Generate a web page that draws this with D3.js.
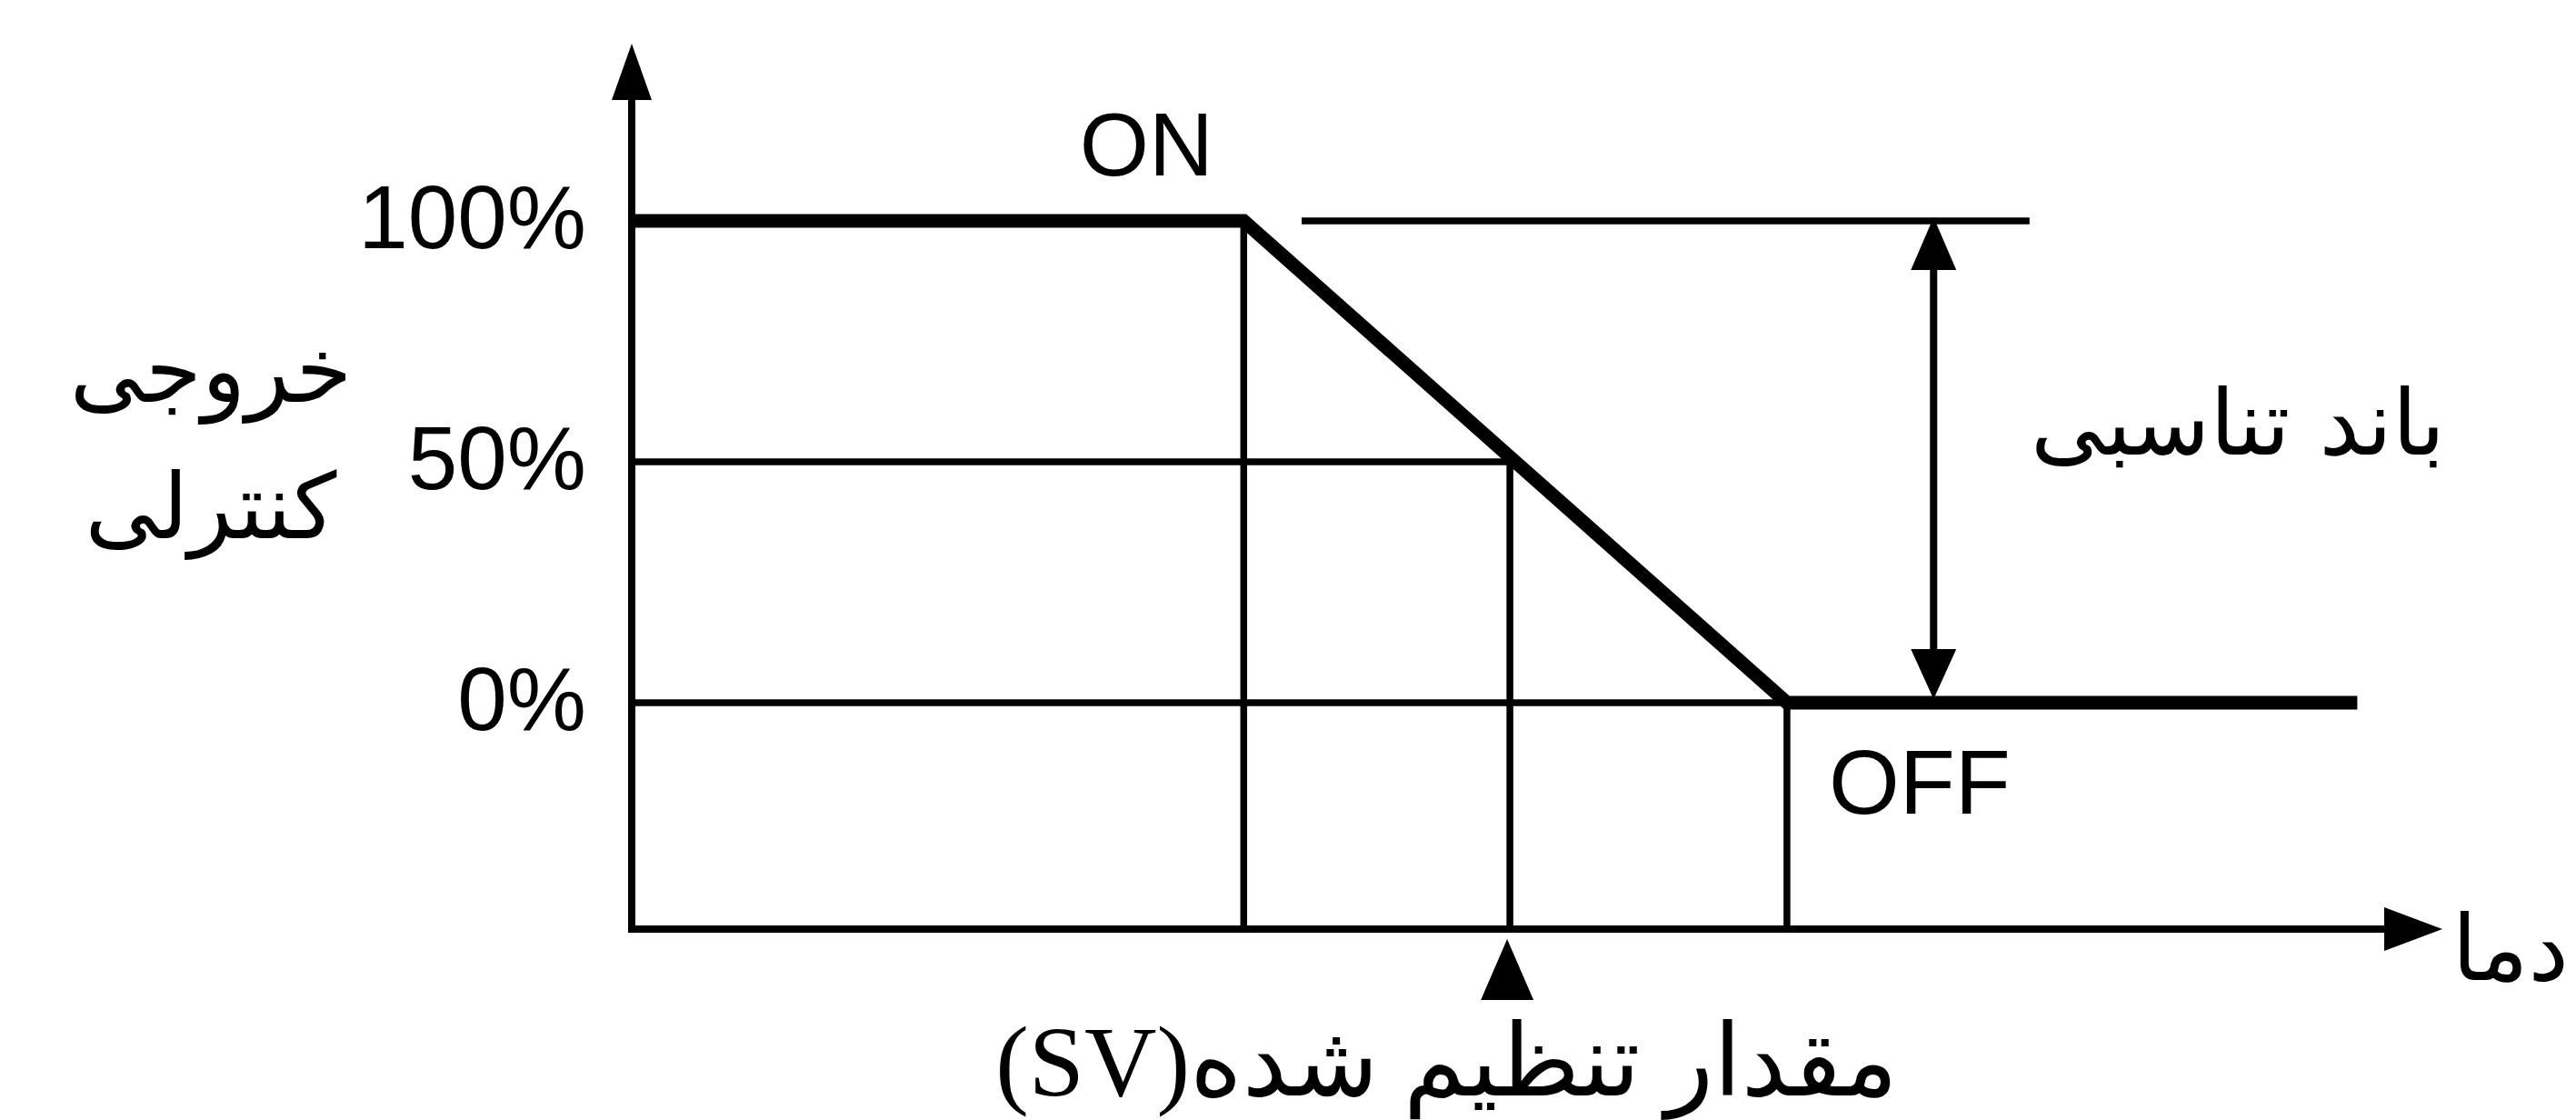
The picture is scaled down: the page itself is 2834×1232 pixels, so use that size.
<!DOCTYPE html>
<html>
<head>
<meta charset="utf-8">
<script src="https://cdn.jsdelivr.net/npm/d3@7"></script>
<style>
  body { margin: 0; background: #fff; }
  svg { display: block; }
  .lat { font-family: "Liberation Sans", Arial, sans-serif; }
  .fa { font-family: "DejaVu Sans", sans-serif; }
</style>
</head>
<body>
<div class="chart"></div>
<script>
// declare global values
const WIDTH = 2834;
const HEIGHT = 1232;

// data: temperature (arbitrary 0-100 units) vs control output (%)
const curveTemp = [0, 33.8, 63.8, 95.3];
const curveOut = [100, 100, 0, 0];
const yTicks = [0, 50, 100];
const yTickLabels = ["0%", "50%", "100%"];
// guide points: ON, set value, OFF
const guideTemp = [33.8, 48.5, 63.8];
const guideOut = [100, 50, 0];
// proportional band marker
const bandLineTemp = [37.0, 77.2];
const bandArrowTemp = 71.9;
const bandOut = [100, 0];

// layout
const X0 = 695, X1 = 2687;
const AXIS_Y = 1022, AXIS_TOP = 48;
const THICK = 15, THIN = 7.5, AXIS_W = 8;

var x = d3.scaleLinear().domain([0, 100]).range([X0, X1]);
var y = d3.scaleLinear().domain([0, 100]).range([773, 243]);

var svg = d3
  .select(".chart")
  .append("svg")
  .attr("width", WIDTH)
  .attr("height", HEIGHT);

svg.append("rect").attr("width", WIDTH).attr("height", HEIGHT).attr("fill", "#fff");

// thin guide lines (horizontal to the y axis, vertical to the x axis)
var guides = d3.range(guideTemp.length);
svg.append("g")
  .selectAll("line.h")
  .data(guides.slice(1))
  .join("line")
  .attr("x1", x(0))
  .attr("x2", (i) => x(guideTemp[i]))
  .attr("y1", (i) => y(guideOut[i]))
  .attr("y2", (i) => y(guideOut[i]))
  .attr("stroke", "#000")
  .attr("stroke-width", THIN);

svg.append("g")
  .selectAll("line.v")
  .data(guides)
  .join("line")
  .attr("x1", (i) => x(guideTemp[i]))
  .attr("x2", (i) => x(guideTemp[i]))
  .attr("y1", (i) => y(guideOut[i]))
  .attr("y2", AXIS_Y)
  .attr("stroke", "#000")
  .attr("stroke-width", THIN);

// band reference line at 100%
svg.append("line")
  .attr("x1", x(bandLineTemp[0]))
  .attr("x2", x(bandLineTemp[1]))
  .attr("y1", y(100))
  .attr("y2", y(100))
  .attr("stroke", "#000")
  .attr("stroke-width", THIN);

// band double arrow
var bx = x(bandArrowTemp);
var topTip = y(bandOut[0]) - 4, botTip = y(bandOut[1]) - 4;
svg.append("line")
  .attr("x1", bx).attr("x2", bx)
  .attr("y1", topTip + 40).attr("y2", botTip - 40)
  .attr("stroke", "#000")
  .attr("stroke-width", AXIS_W);
svg.append("path")
  .attr("d", `M${bx},${topTip}L${bx - 25},${topTip + 58}L${bx + 25},${topTip + 58}Z` +
             `M${bx},${botTip}L${bx - 25},${botTip - 55}L${bx + 25},${botTip - 55}Z`)
  .attr("fill", "#000");

// axes
svg.append("line")
  .attr("x1", X0).attr("x2", X0)
  .attr("y1", AXIS_Y + AXIS_W / 2).attr("y2", AXIS_TOP + 40)
  .attr("stroke", "#000").attr("stroke-width", AXIS_W);
svg.append("line")
  .attr("x1", X0).attr("x2", X1 - 40)
  .attr("y1", AXIS_Y).attr("y2", AXIS_Y)
  .attr("stroke", "#000").attr("stroke-width", AXIS_W);
svg.append("path")
  .attr("d", `M${X0},${AXIS_TOP}L${X0 - 22},${AXIS_TOP + 62}L${X0 + 22},${AXIS_TOP + 62}Z` +
             `M${X1},${AXIS_Y}L${X1 - 64},${AXIS_Y - 24}L${X1 - 64},${AXIS_Y + 24}Z`)
  .attr("fill", "#000");

// y tick labels
svg.append("g")
  .attr("transform", `translate(${X0},0)`)
  .call(d3.axisLeft(y).tickValues(yTicks).tickSize(0).tickPadding(50)
    .tickFormat((d, i) => yTickLabels[i]))
  .call((g) => g.select(".domain").remove())
  .call((g) => g.selectAll(".tick text")
    .attr("class", "lat")
    .attr("font-family", null)
    .attr("font-size", 98)
    .attr("fill", "#000")
    .attr("dy", "0.3em"));

// output curve
var valueLine = d3.line()
  .x((d, i) => x(curveTemp[i]))
  .y((d, i) => y(curveOut[i]))
  .curve(d3.curveLinear);
svg.append("path")
  .datum(curveTemp)
  .attr("d", valueLine)
  .attr("fill", "none")
  .attr("stroke", "#000")
  .attr("stroke-width", THICK)
  .attr("stroke-linejoin", "miter");

// set value marker under the x axis
var sx = x(guideTemp[1]) - 3;
svg.append("path")
  .attr("d", `M${sx},1033L${sx - 29},1100L${sx + 29},1100Z`)
  .attr("fill", "#000");

// labels
svg.append("text").attr("class", "lat")
  .attr("x", x(guideTemp[0]) - 107).attr("y", 193)
  .attr("text-anchor", "middle").attr("font-size", 98)
  .text("ON");
svg.append("text").attr("class", "lat")
  .attr("x", x(guideTemp[2]) + 46).attr("y", 895)
  .attr("font-size", 100)
  .text("OFF");

svg.append("text").attr("class", "fa")
  .attr("x", 232).attr("y", 442)
  .attr("text-anchor", "middle").attr("font-size", 100)
  .text("خروجی");
svg.append("text").attr("class", "fa")
  .attr("x", 232).attr("y", 592)
  .attr("text-anchor", "middle").attr("font-size", 100)
  .text("کنترلی");

svg.append("text").attr("class", "fa")
  .attr("x", 2462).attr("y", 500)
  .attr("text-anchor", "middle").attr("font-size", 100)
  .text("باند تناسبی");

svg.append("text").attr("class", "fa")
  .attr("x", 2826).attr("y", 1078)
  .attr("text-anchor", "end").attr("font-size", 100)
  .text("دما");

svg.append("text")
  .attr("x", 2088).attr("y", 1205)
  .attr("direction", "rtl")
  .attr("text-anchor", "start")
  .attr("font-family", "'Liberation Serif', 'DejaVu Sans', serif")
  .attr("font-size", 110)
  .text("مقدار تنظیم شده(SV)");
</script>
</body>
</html>
